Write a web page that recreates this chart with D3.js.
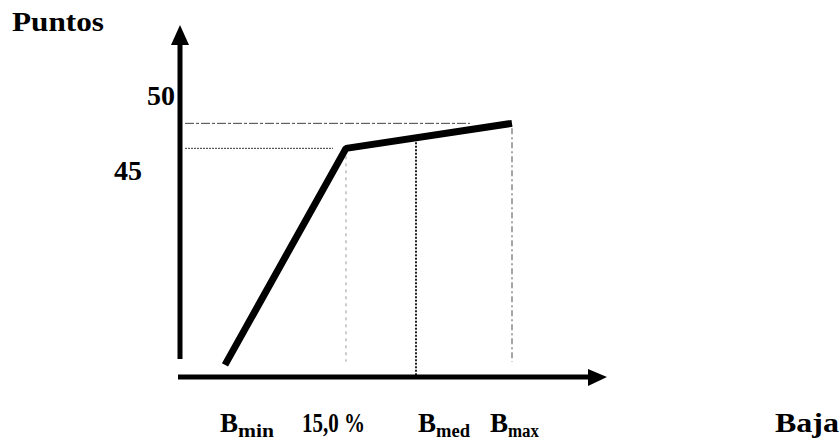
<!DOCTYPE html>
<html>
<head>
<meta charset="utf-8">
<script src="https://cdn.jsdelivr.net/npm/d3@7"></script>
<style>
  body { margin: 0; background: #fff; }
  svg text { font-weight: bold; fill: #000; }
</style>
</head>
<body>
<svg id="chart" width="840" height="445"></svg>
<script>
// --- data ---
const seriesX = [4.7, 16.8, 33.4];          // B_min .. knee .. B_max
const seriesY = [31.07, 46.57, 48.36];      // puntos
const yTicks = [50, 45];
const xTickMain = ['B', '15,0 %', 'B', 'B', 'Baja'];
const xTickSub = ['min', '', 'med', 'max', ''];
const xTickPos = [4.2, 12.4, 24.0, 31.2, 59.7];
const guideX = [16.8, 23.8, 33.4];          // vertical guide lines
const guideY = [48.36, 46.57];              // horizontal guide lines
const guideYEnd = [29.2, 15.5];

const FONT = "'Liberation Serif', 'Times New Roman', 'DejaVu Serif', serif";

const svg = d3.select('#chart');
const x = d3.scaleLinear().domain([0, 43]).range([178, 608]);
const y = d3.scaleLinear().domain([30.2, 55.4]).range([377, 25]);

// guide lines (thin, dashed)
const hStyles = [{ c: '#444', d: '9,2,3,2' }, { c: '#333', d: '2,1' }];
guideY.forEach((v, i) => {
  svg.append('line')
    .attr('x1', 185).attr('x2', x(guideYEnd[i]))
    .attr('y1', y(v)).attr('y2', y(v))
    .attr('stroke', hStyles[i].c).attr('stroke-width', 1)
    .attr('stroke-dasharray', hStyles[i].d);
});

const vStyles = [
  { c: '#999', w: 1, d: '3,4', top: 46.0, bot: 31.3 },
  { c: '#222', w: 2, d: '2,1.5', top: 47.0, bot: 30.2 },
  { c: '#888', w: 1.5, d: '6,3,2,3', top: 48.0, bot: 31.3 }
];
guideX.forEach((v, i) => {
  const s = vStyles[i];
  svg.append('line')
    .attr('x1', x(v)).attr('x2', x(v))
    .attr('y1', y(s.top)).attr('y2', y(s.bot))
    .attr('stroke', s.c).attr('stroke-width', s.w)
    .attr('stroke-dasharray', s.d);
});

// axes with arrows
svg.append('line')
  .attr('x1', 180).attr('x2', 180)
  .attr('y1', 42).attr('y2', 359)
  .attr('stroke', '#000').attr('stroke-width', 5);
svg.append('path')
  .attr('d', 'M180,25 L171,45 L189,45 Z')
  .attr('fill', '#000');

svg.append('line')
  .attr('x1', 178).attr('x2', 592)
  .attr('y1', 377).attr('y2', 377)
  .attr('stroke', '#000').attr('stroke-width', 5);
svg.append('path')
  .attr('d', 'M607,377 L588,369 L588,386 Z')
  .attr('fill', '#000');

// the series line
const line = d3.line().x((d, i) => x(seriesX[i])).y(d => y(d));
svg.append('path')
  .datum(seriesY)
  .attr('d', line)
  .attr('fill', 'none')
  .attr('stroke', '#000')
  .attr('stroke-width', 7)
  .attr('stroke-linejoin', 'bevel');

// y tick labels
const yTickX = [175, 142];
const yTickDy = [5, 10];
yTicks.forEach((v, i) => {
  svg.append('text')
    .attr('font-family', FONT)
    .attr('x', yTickX[i]).attr('y', y(v) + yTickDy[i])
    .attr('text-anchor', 'end')
    .attr('font-size', 28)
    .text(v);
});

// axis title
svg.append('text')
  .attr('font-family', FONT)
  .attr('x', 12).attr('y', 31)
  .attr('font-size', 28)
  .attr('textLength', 92).attr('lengthAdjust', 'spacingAndGlyphs')
  .text('Puntos');

// x tick labels
const subLen = [36, 0, 34, 31, 0];
xTickMain.forEach((lab, i) => {
  const t = svg.append('text')
    .attr('font-family', FONT)
    .attr('x', x(xTickPos[i])).attr('y', 432)
    .attr('font-size', 27);
  if (xTickSub[i]) {
    t.append('tspan').text(lab);
    t.append('tspan')
      .attr('font-size', 18).attr('dy', 5)
      .attr('textLength', subLen[i]).attr('lengthAdjust', 'spacingAndGlyphs')
      .text(xTickSub[i]);
  } else {
    t.attr('textLength', lab === 'Baja' ? 64 : 63)
      .attr('lengthAdjust', 'spacingAndGlyphs')
      .text(lab);
  }
});
</script>
</body>
</html>
